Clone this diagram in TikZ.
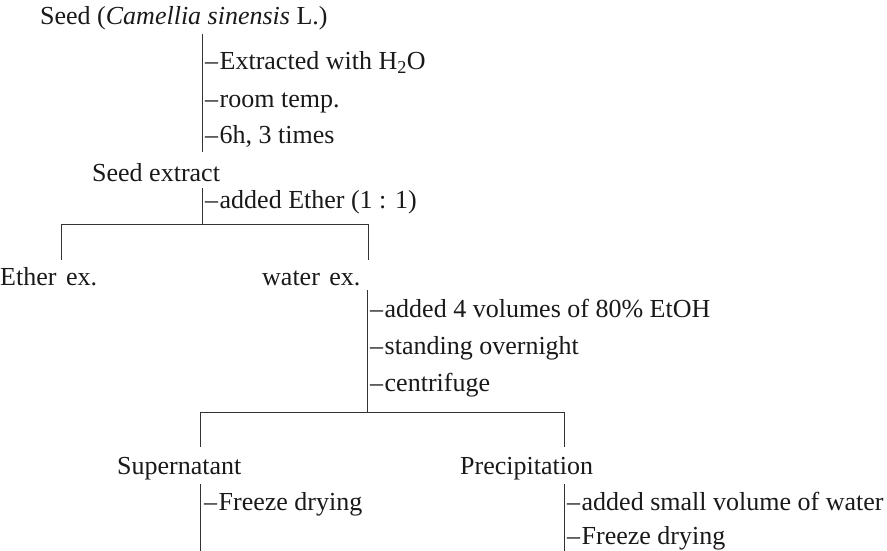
\documentclass[tikz,border=0pt]{standalone}
\usepackage{fontspec}
\setmainfont{Liberation Serif}
\newcommand{\dsh}{–\kern1.5pt}
\begin{document}
\begin{tikzpicture}[x=1pt,y=-1pt,
  lbl/.style={anchor=base west,inner sep=0pt,text=black!90,font=\fontsize{26}{30}\selectfont},
  conn/.style={line width=0.9pt,draw=black!80}]
\useasboundingbox (0,0) rectangle (887,551);
% texts
\node[lbl] (seed) at (40,25) {Seed (\textit{Camellia sinensis} L.)};
\node[lbl] (s1) at (205,70) {\dsh Extracted with H\textsubscript{2}O};
\node[lbl] (s2) at (205,107) {\dsh room temp.};
\node[lbl] (s3) at (205,143) {\dsh 6h, 3 times};
\node[lbl] (extract) at (92,181) {Seed extract};
\node[lbl] (e1) at (205,208) {\dsh added Ether (1 : 1)};
\node[lbl] (ether) at (0,285) {Ether\kern3pt\ ex.};
\node[lbl] (water) at (262,285) {water\kern3pt\ ex.};
\node[lbl] (w1) at (370,317) {\dsh added 4 volumes of 80\% EtOH};
\node[lbl] (w2) at (370,354) {\dsh standing overnight};
\node[lbl] (w3) at (370,391) {\dsh centrifuge};
\node[lbl] (super) at (117,474) {Supernatant};
\node[lbl] (prec) at (460,474) {Precipitation};
\node[lbl] (f1) at (204,510) {\dsh Freeze drying};
\node[lbl] (p1) at (567,510) {\dsh added small volume of water};
\node[lbl] (p2) at (567,544) {\dsh Freeze drying};
% connector points
\coordinate (a1) at (202,34);
\coordinate (a2) at (202,152);
\coordinate (b1) at (202,188);
\coordinate (b2) at (202,224);
\coordinate (bl) at (61,224);
\coordinate (br) at (368,224);
\coordinate (blb) at (61,260);
\coordinate (brb) at (368,260);
\coordinate (c1) at (367,290);
\coordinate (c2) at (367,412);
\coordinate (cl) at (200,412);
\coordinate (cr) at (564,412);
\coordinate (clb) at (200,447);
\coordinate (crb) at (564,447);
\coordinate (d1) at (200,484);
\coordinate (d2) at (200,551);
\coordinate (e1t) at (564,484);
\coordinate (e2b) at (564,551);
% connectors
\draw[conn] (a1) -- (a2);
\draw[conn] (b1) -- (b2);
\draw[conn] (blb) -- (bl) -- (br) -- (brb);
\draw[conn] (c1) -- (c2);
\draw[conn] (clb) -- (cl) -- (cr) -- (crb);
\draw[conn] (d1) -- (d2);
\draw[conn] (e1t) -- (e2b);
\end{tikzpicture}
\end{document}
